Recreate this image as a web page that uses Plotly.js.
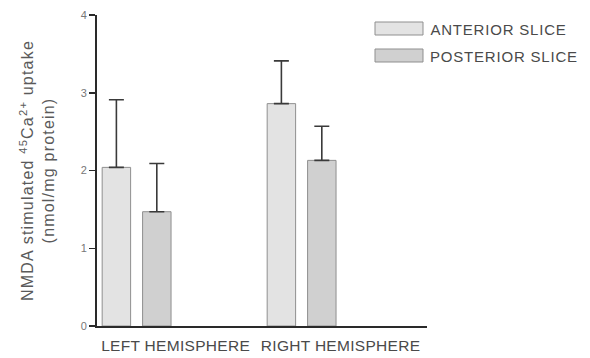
<!DOCTYPE html>
<html>
<head>
<meta charset="utf-8">
<script src="https://cdn.plot.ly/plotly-3.0.1.min.js"></script>
<style>
html,body{margin:0;padding:0;background:#fff;}
#chart{width:590px;height:358px;}
#chart .ytitle{letter-spacing:1.2px;}
#chart .annotation-text{letter-spacing:0.8px;}
#chart .xtick text{letter-spacing:0.3px;}
</style>
</head>
<body>
<div id="chart"></div>
<script>
const categories = ['LEFT HEMISPHERE', 'RIGHT HEMISPHERE'];
const seriesNames = ['ANTERIOR SLICE', 'POSTERIOR SLICE'];
const anteriorValues = [2.04, 2.86];
const anteriorErrors = [0.87, 0.55];
const posteriorValues = [1.47, 2.13];
const posteriorErrors = [0.62, 0.44];
const yTickValues = [0, 1, 2, 3, 4];

const colors = ['#e3e3e3', '#d0d0d0'];

function barTrace(name, vals, errs, color) {
  return {
    type: 'bar', name: name, x: categories, y: vals,
    marker: {color: color, line: {color: '#8f8f8f', width: 1}},
    error_y: {type: 'data', array: errs, arrayminus: vals.map(() => 0), symmetric: false,
              color: '#3a3a3a', thickness: 1.6, width: 7.5},
    showlegend: false, hoverinfo: 'skip'
  };
}

const data = [
  barTrace(seriesNames[0], anteriorValues, anteriorErrors, colors[0]),
  barTrace(seriesNames[1], posteriorValues, posteriorErrors, colors[1])
];

const font = 'Liberation Sans, Arial, sans-serif';
const layout = {
  width: 590, height: 358,
  margin: {l: 97, r: 163, t: 15, b: 32},
  paper_bgcolor: '#fff', plot_bgcolor: '#fff',
  barmode: 'group', bargap: 0.51, bargroupgap: 0.296,
  font: {family: font, color: '#555'},
  xaxis: {
    type: 'category', range: [-0.24, 1.76],
    showline: true, linecolor: '#2a2a2a', linewidth: 2,
    ticks: '', showgrid: false, zeroline: false,
    tickfont: {size: 15.5, color: '#4a4a4a'}, ticklabelshift: 39, ticklabelstandoff: 4,
    fixedrange: true
  },
  yaxis: {
    range: [0, 4], tickvals: yTickValues, ticktext: yTickValues.map(String),
    showline: true, linecolor: '#2a2a2a', linewidth: 2,
    ticks: 'outside', ticklen: 6, tickwidth: 1.5, tickcolor: '#2a2a2a',
    showgrid: false, zeroline: false,
    tickfont: {size: 11, color: '#777'},
    title: {text: 'NMDA stimulated <sup>45</sup>Ca<sup>2+</sup> uptake<br>(nmol/mg protein)',
            font: {size: 16, color: '#5a5a5a'}, standoff: 22},
    fixedrange: true
  },
  shapes: [
    {type: 'rect', xref: 'paper', yref: 'paper', x0: 278/330, x1: 326/330,
     y0: (326-35)/311, y1: (326-22)/311, fillcolor: colors[0], line: {color: '#8f8f8f', width: 1}},
    {type: 'rect', xref: 'paper', yref: 'paper', x0: 278/330, x1: 326/330,
     y0: (326-62)/311, y1: (326-49)/311, fillcolor: colors[1], line: {color: '#8f8f8f', width: 1}}
  ],
  annotations: [
    {xref: 'paper', yref: 'paper', x: 337/330, y: (326-29)/311, xanchor: 'left', yanchor: 'middle',
     text: seriesNames[0], showarrow: false, font: {size: 15, color: '#4a4a4a'}},
    {xref: 'paper', yref: 'paper', x: 337/330, y: (326-56)/311, xanchor: 'left', yanchor: 'middle',
     text: seriesNames[1], showarrow: false, font: {size: 15, color: '#4a4a4a'}}
  ]
};

Plotly.newPlot('chart', data, layout, {staticPlot: true, displayModeBar: false});
</script>
</body>
</html>
